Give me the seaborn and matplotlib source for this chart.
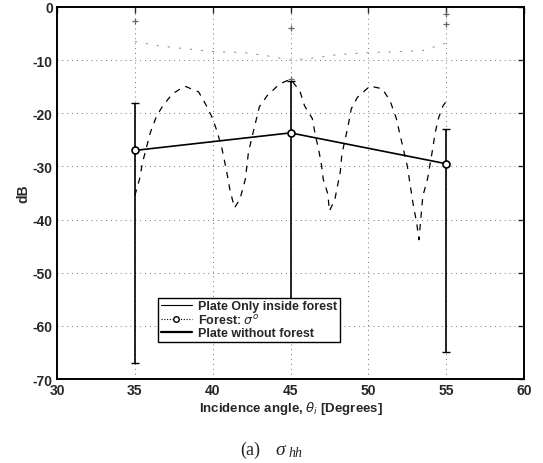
import matplotlib
matplotlib.use("Agg")
import matplotlib.pyplot as plt
import seaborn as sns
import pandas as pd

angles = [35, 45, 55]
forest_db = [-27.0, -23.7, -29.5]
err_hi = [-18.0, -14.0, -23.0]
err_lo = [-67.0, -58.0, -65.0]

# courbe oscillante (plaque seule dans la forêt)
inside_x = [35.0, 35.3, 35.5, 36.0, 36.4, 36.8, 37.4, 38.2, 39.1, 39.6, 40.0, 40.3,
            40.6, 40.9, 41.1, 41.4, 41.75, 42.1, 42.3, 42.6, 43.0, 43.5, 44.3, 45.0,
            45.6, 45.9, 46.4, 46.6, 46.8, 47.0, 47.1, 47.4, 47.5, 47.85, 48.2, 48.3,
            48.7, 48.9, 49.3, 50.1, 50.9, 51.4, 51.8, 52.0, 52.35, 52.5, 52.7, 52.9,
            53.1, 53.25, 53.5, 53.8, 54.1, 54.3, 54.5, 54.8, 55.0]
inside_db = [-35.5, -32.4, -29.2, -23.6, -20.5, -18.6, -16.4, -14.9, -16.0, -18.6, -21.0, -23.6,
             -26.7, -31.0, -34.3, -37.8, -36.2, -32.4, -27.3, -23.6, -18.8, -16.7, -14.5, -13.6,
             -15.8, -18.6, -21.0, -24.2, -26.7, -29.9, -32.4, -35.2, -38.4, -36.2, -31.0, -27.7,
             -22.4, -19.2, -17.0, -14.9, -15.4, -17.7, -21.0, -23.6, -28.0, -29.9, -33.7, -37.5,
             -40.5, -43.8, -35.6, -32.4, -27.3, -23.6, -21.0, -18.6, -17.8]

# plaque sans forêt (ligne pâle en haut)
without_x = [35, 36.5, 38, 40, 42, 43.5, 45, 46.5, 48, 50, 52, 53.5, 55]
without_db = [-6.5, -7.3, -7.8, -8.4, -8.6, -9.2, -10.0, -9.6, -9.0, -8.6, -8.4, -8.2, -6.8]
cap_x = [35, 45, 45, 55, 55]
cap_db = [-2.6, -4.0, -13.5, -1.3, -3.2]

xticks = [30, 35, 40, 45, 50, 55, 60]
yticks = [0, -10, -20, -30, -40, -50, -60, -70]

sns.set_style("white")
plt.rcParams["font.family"] = ["Liberation Sans", "DejaVu Sans"]
plt.rcParams["axes.unicode_minus"] = False

fig = plt.figure(figsize=(5.43, 4.64), dpi=100)
ax = fig.add_axes([0.105, 0.181, 0.86, 0.802])

# grille pointillée
for x in xticks[1:-1]:
    ax.axvline(x, color="0.45", lw=0.7, ls=(0, (1, 4)), zorder=0)
for y in yticks[1:-1]:
    ax.axhline(y, color="0.45", lw=0.7, ls=(0, (1, 4)), zorder=0)

df_in = pd.DataFrame({"angle": inside_x, "db": inside_db})
sns.lineplot(data=df_in, x="angle", y="db", ax=ax, color="black", lw=0.9,
             linestyle=(0, (5, 5)), label="Plate Only inside forest")

df_wo = pd.DataFrame({"angle": without_x, "db": without_db})
sns.lineplot(data=df_wo, x="angle", y="db", ax=ax, color="0.6", lw=0.8,
             linestyle=(0, (2, 8)), label="_nolegend_")
ax.plot(cap_x, cap_db, ls="none", marker="+", ms=5, mew=0.9, color="0.4")

lower = [f - l for f, l in zip(forest_db, err_lo)]
upper = [h - f for f, h in zip(forest_db, err_hi)]
ax.errorbar(angles, forest_db, yerr=[lower, upper], fmt="none", ecolor="black",
            elinewidth=1.2, capsize=3, capthick=1.0, zorder=3)
sns.lineplot(x=angles, y=forest_db, ax=ax, color="black", lw=1.2, marker="o",
             markersize=5, markerfacecolor="white", markeredgecolor="black",
             markeredgewidth=1.2, label="_nolegend_", zorder=4)

# légende (style MATLAB)
h1, = ax.plot([], [], color="black", lw=0.8)
h2, = ax.plot([], [], color="black", lw=0.8, ls=(0, (1, 1.5)), marker="o", ms=4,
              mfc="white")
h3, = ax.plot([], [], color="black", lw=1.6)
leg = ax.legend([h1, h2, h3], ["Plate Only inside forest", "Forest: $\\sigma^o$",
                               "Plate without forest"],
                loc="lower left", bbox_to_anchor=(0.203, 0.083), frameon=True,
                fancybox=False, edgecolor="black", framealpha=1,
                prop={"weight": "bold", "size": 9}, handlelength=2.5,
                borderpad=0.2, labelspacing=0.05, handletextpad=0.5)
leg.get_frame().set_linewidth(1.0)

ax.set_xlim(30, 60)
ax.set_ylim(-70, 0)
ax.set_xticks(xticks)
ax.set_yticks(yticks)
ax.set_xticklabels([str(v) for v in xticks], fontweight="bold", fontsize=10)
ax.set_yticklabels([str(v) for v in yticks], fontweight="bold", fontsize=10)
ax.tick_params(direction="in", length=4, width=1, top=True, right=True, pad=3)
for s in ax.spines.values():
    s.set_color("black")
    s.set_linewidth(1.4)

ax.set_xlabel("Incidence angle, $\\theta_i$ [Degrees]", fontweight="bold",
              fontsize=9.5, labelpad=1)
ax.set_ylabel("dB", fontweight="bold", fontsize=10, labelpad=2)

# légende de la figure
fig.text(0.442, 0.02, "(a)", fontsize=13, family="Liberation Serif", va="baseline")
fig.text(0.508, 0.02, "σ", fontsize=14, family="Liberation Serif", style="italic",
         va="baseline")
fig.text(0.531, 0.016, "hh", fontsize=10, family="Liberation Serif",
         style="italic", va="baseline")

fig.savefig("out.png", dpi=100)
